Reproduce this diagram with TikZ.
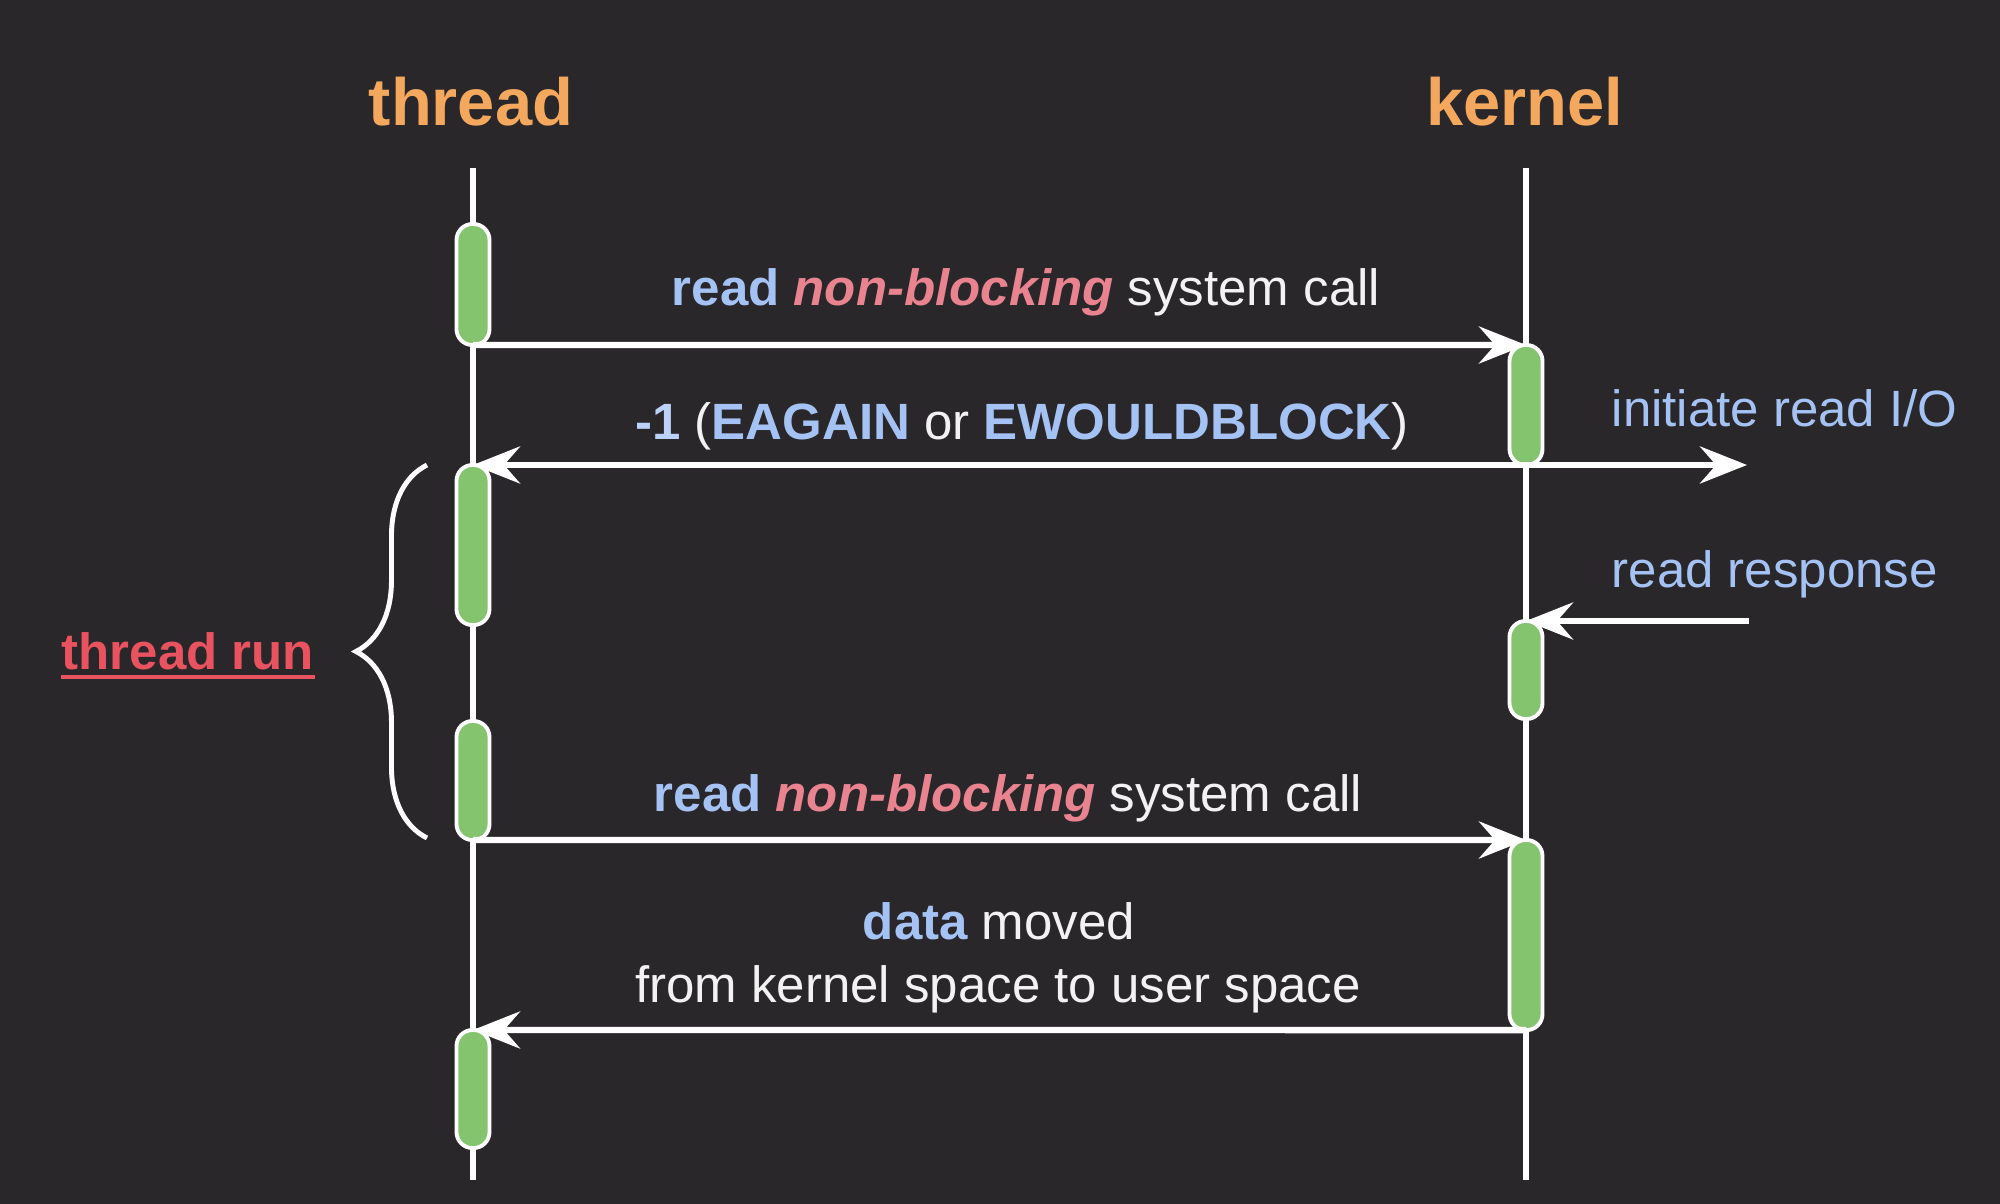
\documentclass[tikz,border=0pt]{standalone}
\usepackage{fontspec}
\setmainfont{Liberation Sans}
\usepackage{tikz}
\usetikzlibrary{positioning,arrows.meta}
\usetikzlibrary{decorations.pathreplacing}

\definecolor{bgdark}{HTML}{2A272A}
\definecolor{bargreen}{HTML}{84C46F}
\definecolor{titleorange}{HTML}{F4A85E}
\definecolor{rdblue}{HTML}{A4C2F4}
\definecolor{nbpink}{HTML}{E98390}
\definecolor{runred}{HTML}{E9525F}
\definecolor{txtwhite}{HTML}{F2F2F2}

\newcommand\lblsize{\fontsize{14.5pt}{17pt}\selectfont}
\newcommand\titlesize{\fontsize{19pt}{22pt}\selectfont}

\begin{document}
\begin{tikzpicture}[x=0.01cm,y=-0.01cm,
  lifeline/.style={draw=white, line width=1.8pt},
  bar/.style={draw=white, fill=bargreen, line width=1.1pt, rounded corners=0.16cm,
    minimum width=0.33cm, inner sep=0pt, outer sep=0pt, anchor=north},
  msg/.style={draw=white, line width=1.8pt},
  tip/.tip={Stealth[length=0.47cm, width=0.37cm, inset=0.16cm]},
  lbl/.style={text=txtwhite, font=\lblsize, inner sep=0pt, anchor=base},
  title/.style={text=titleorange, font=\titlesize\bfseries, inner sep=0pt, anchor=base},
  brc/.style={draw=white, line width=1.4pt, decorate,
    decoration={brace, amplitude=0.71cm}}]

  % background and frame
  \fill[bgdark] (0,0) rectangle (2000,1204);
  \useasboundingbox (0,0) rectangle (2000,1204);

  % titles
  \node[title] (thread) at (471,126) {thread};
  \node[title] (kernel) at (1525,126) {kernel};

  % lifelines
  \coordinate (tTop) at (473,168);
  \coordinate (tBot) at (473,1180);
  \coordinate (kTop) at (1526,168);
  \coordinate (kBot) at (1526,1180);
  \draw[lifeline] (tTop) -- (tBot);
  \draw[lifeline] (kTop) -- (kBot);

  % activation bars, thread side
  \node[bar, minimum height=1.21cm] (t1) at (473,224) {};
  \node[bar, minimum height=1.60cm] (t2) at (473,465) {};
  \node[bar, minimum height=1.19cm] (t3) at (473,721) {};
  \node[bar, minimum height=1.18cm] (t4) at (473,1030) {};

  % activation bars, kernel side
  \node[bar, minimum height=1.20cm] (k1) at (1526,345) {};
  \node[bar, minimum height=0.98cm] (k2) at (1526,621) {};
  \node[bar, minimum height=1.90cm] (k3) at (1526,840) {};

  % free ends on the right
  \coordinate (io) at (1747,465);
  \coordinate (resp) at (1749,621);

  % messages
  \draw[msg, -tip] (t1.south) -- (k1.north);
  \draw[msg, tip-tip] (t2.north) -- (io);
  \draw[msg, -tip] (resp) -- (k2.north);
  \draw[msg, -tip] (t3.south) -- (k3.north);
  \draw[msg, -tip] (k3.south) -- (t4.north);

  % message labels
  \node[lbl] (call1) at (1026,306)
    {\textcolor{rdblue}{\bfseries read} \textcolor{nbpink}{\bfseries\itshape non-blocking} system call};
  \node[lbl] (ret1) at (1022,440)
    {\textcolor{rdblue!75!white}{\bfseries -1} (\textcolor{rdblue}{\bfseries EAGAIN} or \textcolor{rdblue}{\bfseries EWOULDBLOCK})};
  \node[lbl, anchor=base west, text=rdblue] (initio) at (1611,427) {initiate read I/O};
  \node[lbl, anchor=base west, text=rdblue] (readresp) at (1611,588) {read response};
  \node[lbl] (call2) at (1008,812)
    {\textcolor{rdblue}{\bfseries read} \textcolor{nbpink}{\bfseries\itshape non-blocking} system call};
  \node[lbl] (data1) at (999,940) {\textcolor{rdblue}{\bfseries data} moved};
  \node[lbl] (data2) at (998,1002) {from kernel space to user space};

  % thread run brace
  \coordinate (brBot) at (427,838);
  \coordinate (brTop) at (427,465);
  \draw[brc] (brBot) -- (brTop);
  \node[lbl, anchor=base west, text=runred, font=\lblsize\bfseries] (run) at (61,670) {thread run};
  \draw[runred, line width=1.4pt] ([yshift=-0.07cm]run.base west) -- ([yshift=-0.07cm]run.base east);
\end{tikzpicture}
\end{document}
